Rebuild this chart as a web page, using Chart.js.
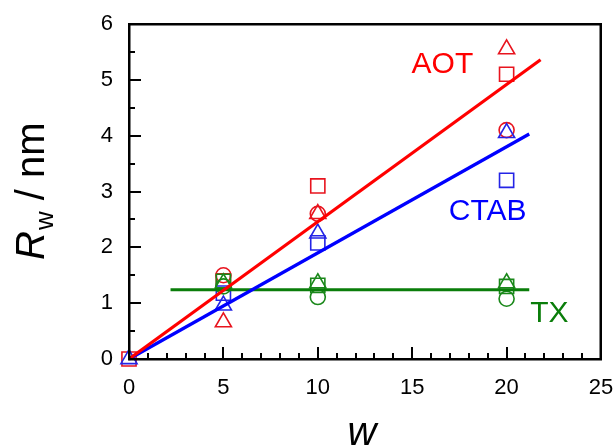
<!DOCTYPE html>
<html><head><meta charset="utf-8">
<script src="https://cdn.jsdelivr.net/npm/chart.js@4/dist/chart.umd.min.js"></script>
<style>html,body{margin:0;padding:0;background:#fff}</style>
</head><body>
<canvas id="c" width="616" height="448"></canvas>
<script>
// ---- data ----
const wValues = [0, 5, 10, 20];
const xTickLabels = [0, 5, 10, 15, 20, 25];
const yTickLabels = [0, 1, 2, 3, 4, 5, 6];

const aotSquare   = [0, 1.4, 3.1, 5.1];
const aotTriangle = [null, 0.66, 2.6, 5.55];
const aotCircle   = [null, 1.5, 2.6, 4.1];
const ctabTriangle = [0, 0.96, 2.25, 4.05];
const ctabSquare   = [null, 1.18, 2.08, 3.2];
const txSquare   = [null, 1.39, 1.32, 1.3];
const txTriangle = [null, 1.36, 1.36, 1.36];
const txCircle   = [null, 1.3, 1.11, 1.08];

const aotFitW = [0, 21.8],  aotFitR = [0, 5.36];
const ctabFitW = [0, 21.2], ctabFitR = [0, 4.03];
const txFitW = [2.2, 21.2], txFitR = [1.24, 1.24];

const seriesLabels = [
  {text: 'AOT',  x: 16.6,  y: 5.27, color: '#ff0000'},
  {text: 'CTAB', x: 19.0,  y: 2.63, color: '#0000ff'},
  {text: 'TX',   x: 22.27, y: 0.81, color: '#0a7d0a'}
];

// ---- helpers ----
const pts = (xs, ys) => xs.map((x, i) => ({x, y: ys[i]})).filter(p => p.y !== null);
const RED_M = '#e8141e', BLUE_M = '#2424e6', GREEN_M = '#1a881a';
function markers(ys, style, color, order) {
  const r = style === 'rect' ? 10 : (style === 'triangle' ? 9.3 : 7.5);
  return {type: 'scatter', data: pts(wValues, ys), pointStyle: style, pointRadius: r,
    pointBorderColor: color, pointBackgroundColor: 'rgba(0,0,0,0)', pointBorderWidth: 1.6,
    showLine: false, order, clip: false};
}
function fit(xs, ys, color) {
  return {type: 'scatter', data: pts(xs, ys), showLine: true, borderColor: color, borderWidth: 3.2,
    pointRadius: 0, order: 0, clip: false};
}

const FONT = '"Liberation Sans", Arial, sans-serif';

function drawFrame(chart) {
  const {ctx, chartArea: a, scales: {x, y}} = chart;
  const L = Math.round(a.left), T = Math.round(a.top), R = Math.round(a.right), B = Math.round(a.bottom);
  ctx.save();
  ctx.fillStyle = '#000';
  ctx.fillRect(L - 1, T - 1, R - L + 2, 2.5);
  ctx.fillRect(L - 1, B - 1, R - L + 2, 2.5);
  ctx.fillRect(L - 1, T - 1, 2.5, B - T + 2);
  ctx.fillRect(R - 1.5, T - 1, 2.5, B - T + 2);
  for (let v = 1; v < 25; v++) {
    const px = Math.round(x.getPixelForValue(v));
    const len = v % 5 === 0 ? 12 : 6;
    ctx.fillRect(px - 1, B - len, 2, len);
  }
  for (let k = 1; k < 12; k++) {
    const py = Math.round(y.getPixelForValue(k / 2));
    const len = k % 2 === 0 ? 12 : 6;
    ctx.fillRect(L, py - 1, len, 2);
  }
  ctx.restore();
}

const decor = {
  id: 'decor',
  afterDraw(chart) {
    drawFrame(chart);
    const {ctx, chartArea: a, scales: {x, y}} = chart;
    ctx.save();
    // series labels
    ctx.font = '30px ' + FONT;
    ctx.textAlign = 'center';
    ctx.textBaseline = 'middle';
    for (const l of seriesLabels) {
      ctx.fillStyle = l.color;
      ctx.fillText(l.text, x.getPixelForValue(l.x), y.getPixelForValue(l.y));
    }
    // x title
    ctx.fillStyle = '#000';
    ctx.font = 'italic 40px ' + FONT;
    ctx.textBaseline = 'alphabetic';
    ctx.fillText('w', (a.left + a.right) / 2 - 3, 445);
    // y title
    ctx.translate(44, 260);
    ctx.rotate(-Math.PI / 2);
    ctx.textAlign = 'left';
    ctx.font = 'italic 40px ' + FONT;
    ctx.fillText('R', 0, 0);
    let xx = ctx.measureText('R').width + 1;
    ctx.font = '26px ' + FONT;
    ctx.fillText('w', xx, 9);
    xx += ctx.measureText('w').width;
    ctx.font = '40px ' + FONT;
    ctx.fillText(' / nm', xx, 0);
    ctx.restore();
  }
};

new Chart(document.getElementById('c'), {
  type: 'scatter',
  data: {
    datasets: [
      fit(aotFitW, aotFitR, '#ff0000'),
      fit(ctabFitW, ctabFitR, '#0000ff'),
      fit(txFitW, txFitR, '#0a7d0a'),
      markers(txSquare, 'rect', GREEN_M, 1),
      markers(txTriangle, 'triangle', GREEN_M, 1),
      markers(txCircle, 'circle', GREEN_M, 1),
      markers(ctabTriangle, 'triangle', BLUE_M, 2),
      markers(ctabSquare, 'rect', BLUE_M, 2),
      markers(aotSquare, 'rect', RED_M, 3),
      markers(aotTriangle, 'triangle', RED_M, 3),
      markers(aotCircle, 'circle', RED_M, 3)
    ]
  },
  options: {
    responsive: false,
    animation: false,
    devicePixelRatio: 1,
    layout: {padding: {top: 24, right: 15, left: 0, bottom: 0}},
    plugins: {legend: {display: false}, tooltip: {enabled: false}},
    scales: {
      x: {
        type: 'linear', min: xTickLabels[0], max: xTickLabels[xTickLabels.length - 1],
        afterBuildTicks(s) { s.ticks = xTickLabels.map(v => ({value: v})); },
        ticks: {color: '#000', font: {family: FONT, size: 22}, padding: 16, maxRotation: 0, autoSkip: false},
        grid: {display: false, drawTicks: false},
        border: {display: false},
        afterFit(s) { s.height = 89; s.paddingLeft = 0; s.paddingRight = 0; }
      },
      y: {
        type: 'linear', min: yTickLabels[0], max: yTickLabels[yTickLabels.length - 1],
        afterBuildTicks(s) { s.ticks = yTickLabels.map(v => ({value: v})); },
        ticks: {color: '#000', font: {family: FONT, size: 22}, padding: 16, autoSkip: false},
        grid: {display: false, drawTicks: false},
        border: {display: false},
        afterFit(s) { s.width = 129; s.paddingTop = 0; s.paddingBottom = 0; }
      }
    }
  },
  plugins: [decor]
});
</script>
</body></html>
